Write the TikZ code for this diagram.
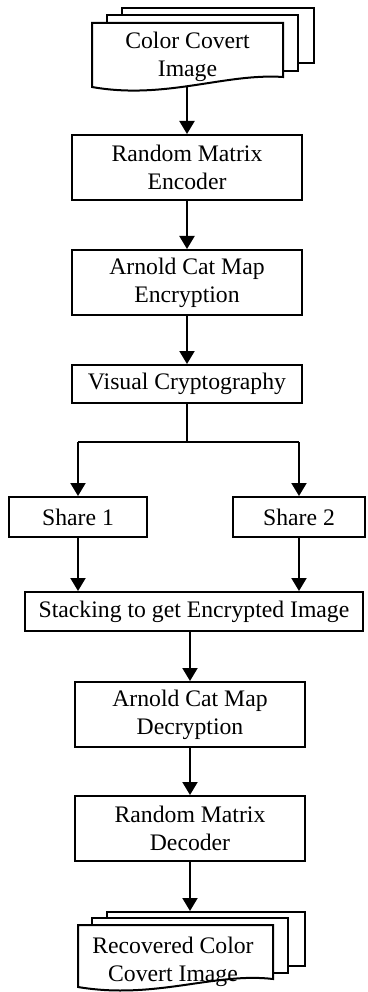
\documentclass[tikz,border=0pt]{standalone}
\usepackage{fontspec}
\setmainfont{Liberation Serif}
\usetikzlibrary{arrows.meta}
\begin{document}
\begin{tikzpicture}[x=1pt,y=-1pt,
  every node/.style={font=\fontsize{23.7}{28}\selectfont},
  procbox/.style={draw,line width=2pt,inner sep=0pt,align=center,fill=white},
  conn/.style={line width=2pt},
  arr/.style={line width=2pt,-{Triangle[width=15pt,length=13pt]}},
  layer/.style={draw,line width=2pt,fill=white}]
\useasboundingbox (0,0) rectangle (367,992);
% top multi-document
\draw[layer] (122,8) rectangle (314,63);
\draw[layer] (107,15) rectangle (298,71);
\draw[layer] (92,23) -- (283,23) -- (283,77)
  .. controls (225,73) and (165,100) .. (92,87) -- cycle;
\node[align=center] (doc1) at (187.5,57) {Color Covert\\Image};
\coordinate (doc1bot) at (187,86);
% boxes
\node[procbox,minimum width=230pt,minimum height=65pt] (enc) at (187,167.5) {Random Matrix\\Encoder};
\node[procbox,minimum width=230pt,minimum height=65pt] (aenc) at (187,282.5) {Arnold Cat Map\\Encryption};
\node[procbox,minimum width=230pt,minimum height=38pt] (vc) at (187,384) {Visual Cryptography};
\coordinate (split) at (187,442);
\node[procbox,minimum width=138pt,minimum height=40pt] (s1) at (78,517) {Share 1};
\node[procbox,minimum width=132pt,minimum height=40pt] (s2) at (299,517) {Share 2};
\node[procbox,minimum width=338pt,minimum height=39pt] (stack) at (194,611.5) {Stacking to get Encrypted Image};
\node[procbox,minimum width=230pt,minimum height=65pt] (adec) at (190,714.5) {Arnold Cat Map\\Decryption};
\node[procbox,minimum width=230pt,minimum height=65pt] (rdec) at (190,828.5) {Random Matrix\\Decoder};
% bottom multi-document
\draw[layer] (107,912) rectangle (305,966);
\draw[layer] (92,918) rectangle (288,973);
\draw[layer] (78,925) -- (273,925) -- (273,979)
  .. controls (215,972) and (155,1000) .. (78,987) -- cycle;
\node[align=center] (doc2) at (173,962) {Recovered Color\\Covert Image};
\coordinate (doc2top) at (190,911);
% connectors
\draw[arr] (doc1bot) -- (enc.north);
\draw[arr] (enc.south) -- (aenc.north);
\draw[arr] (aenc.south) -- (vc.north);
\draw[conn] (vc.south) -- (split);
\draw[conn] (s1.north |- split) -- (s2.north |- split);
\draw[arr] (s1.north |- split) -- (s1.north);
\draw[arr] (s2.north |- split) -- (s2.north);
\draw[arr] (s1.south) -- (s1.south |- stack.north);
\draw[arr] (s2.south) -- (s2.south |- stack.north);
\draw[arr] (adec.north |- stack.south) -- (adec.north);
\draw[arr] (adec.south) -- (rdec.north);
\draw[arr] (rdec.south) -- (doc2top);
\end{tikzpicture}
\end{document}
